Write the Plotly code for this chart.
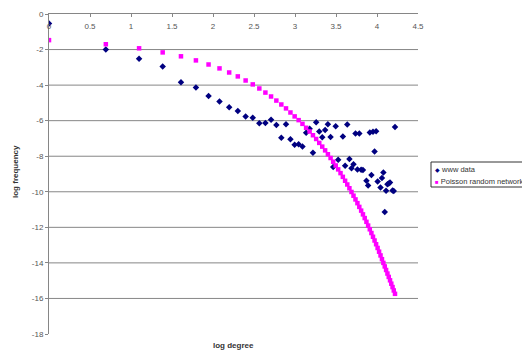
import numpy as np
import plotly.graph_objects as go

# Poisson random network: degree k = 1..68, x = ln(k)
poisson_degree = list(range(1, 69))
poisson_logfreq = [
    -1.47, -1.70, -1.93, -2.16, -2.38, -2.61, -2.84, -3.06, -3.29, -3.51,
    -3.74, -3.96, -4.19, -4.42, -4.64, -4.87, -5.09, -5.31, -5.54, -5.76,
    -5.97, -6.18, -6.40, -6.61, -6.82, -7.03, -7.25, -7.46, -7.67, -7.89,
    -8.10, -8.31, -8.52, -8.74, -8.95, -9.16, -9.38, -9.59, -9.80, -10.01,
    -10.22, -10.43, -10.64, -10.85, -11.06, -11.27, -11.48, -11.69, -11.90, -12.11,
    -12.32, -12.53, -12.74, -12.95, -13.16, -13.37, -13.58, -13.79, -14.00, -14.20,
    -14.40, -14.60, -14.79, -14.98, -15.17, -15.36, -15.55, -15.74,
]

# www data
www_degree = [1, 2, 3, 4, 5, 6, 7, 8, 9, 10, 11, 12, 13, 14, 15, 16, 17, 18, 19, 20,
              21, 22, 23, 24, 25, 26, 27, 28, 29, 30, 31, 32, 33, 34, 36, 37, 38, 39, 40,
              41, 42, 43, 44, 45, 46, 48, 49, 50, 51, 52, 53, 54, 55, 57, 58, 59, 60,
              61, 62, 63, 64, 66, 67, 68]
www_logfreq = [-0.53, -1.99, -2.52, -2.95, -3.84, -4.14, -4.61, -4.92, -5.25, -5.46,
               -5.76, -5.84, -6.14, -6.13, -5.95, -6.25, -6.96, -6.20, -7.04, -7.35,
               -7.32, -7.46, -6.68, -6.46, -7.80, -6.09, -6.61, -6.93, -6.52, -6.20,
               -6.92, -8.60, -6.32, -8.20, -6.89, -8.53, -6.21, -8.15, -8.67,
               -8.45, -6.72, -8.75, -6.72, -8.76, -8.78, -9.38, -9.64, -6.67, -9.06,
               -6.62, -7.74, -6.59, -9.42, -9.76, -9.22, -8.91, -11.14,
               -9.94, -9.57, -9.53, -9.48, -9.93, -9.96, -6.35]

x_ticks = [0, 0.5, 1, 1.5, 2, 2.5, 3, 3.5, 4, 4.5]
y_ticks = [0, -2, -4, -6, -8, -10, -12, -14, -16, -18]
grid_levels = [-2, -4, -6, -8, -10, -12, -14, -16]

FONT = "Liberation Sans, Arial, sans-serif"
AXIS_GRAY = "#868686"
TEXT = "#333333"
WWW_COLOR = "#000080"
POISSON_COLOR = "#FF00FF"

# plot area in pixels: left 49, right 418, top 14, bottom 334
L, R, T, B = 49, 418, 14, 334
PW, PH = R - L, B - T


def px(xp):
    return (xp - L) / PW


def py(yp):
    return (B - yp) / PH


fig = go.Figure()
fig.add_trace(go.Scatter(
    x=np.log(www_degree), y=www_logfreq, mode="markers", name="www data",
    marker=dict(symbol="diamond", size=5, color=WWW_COLOR),
))
fig.add_trace(go.Scatter(
    x=np.log(poisson_degree), y=poisson_logfreq, mode="markers",
    name="Poisson random network",
    marker=dict(symbol="square", size=4.5, color=POISSON_COLOR),
))

for g in grid_levels:
    fig.add_shape(type="line", xref="paper", yref="y", x0=0, x1=1, y0=g, y1=g,
                  line=dict(color=AXIS_GRAY, width=1), layer="below")

# legend box
fig.add_shape(type="rect", xref="paper", yref="paper",
              x0=px(431), x1=px(540), y0=py(187), y1=py(162),
              line=dict(color="#333333", width=1), fillcolor="white", layer="above")

annotations = [
    dict(text="<b>log degree</b>", xref="paper", yref="paper", x=px(233),
         y=py(345), xanchor="center", yanchor="middle", showarrow=False,
         font=dict(size=8, family=FONT, color=TEXT)),
    dict(text="<b>log frequency</b>", xref="paper", yref="paper", x=px(15),
         y=py(172), xanchor="center", yanchor="middle", textangle=-90,
         showarrow=False, font=dict(size=8, family=FONT, color=TEXT)),
    dict(text=f'<span style="color:{WWW_COLOR};font-size:6px">◆</span> www data',
         xref="paper", yref="paper", x=px(433), y=py(169), xanchor="left",
         yanchor="middle", showarrow=False, font=dict(size=7.5, family=FONT, color=TEXT)),
    dict(text=f'<span style="color:{POISSON_COLOR};font-size:6px">■</span> Poisson random network',
         xref="paper", yref="paper", x=px(433), y=py(181), xanchor="left",
         yanchor="middle", showarrow=False, font=dict(size=7.5, family=FONT, color=TEXT)),
]

fig.update_layout(
    width=522, height=354,
    margin=dict(l=L, r=522 - R, t=T, b=354 - B, autoexpand=False),
    paper_bgcolor="white", plot_bgcolor="white",
    font=dict(family=FONT, size=8, color=TEXT),
    showlegend=False,
    xaxis=dict(range=[0, 4.5], tickvals=x_ticks, ticktext=[str(v) for v in x_ticks],
               side="top", ticklabelposition="inside", ticklabeloverflow="allow",
               ticklabelstandoff=5,
               ticks="inside", ticklen=3,
               tickcolor=AXIS_GRAY, showline=True, linecolor=AXIS_GRAY, linewidth=1,
               showgrid=False, zeroline=False, tickfont=dict(size=8, color="#555555"),
               automargin=False),
    yaxis=dict(range=[-18, 0], tickvals=y_ticks, ticktext=[str(v) for v in y_ticks],
               ticks="outside", ticklen=3, tickcolor=AXIS_GRAY, showline=True,
               linecolor=AXIS_GRAY, linewidth=1, showgrid=False, zeroline=False,
               tickfont=dict(size=8, color="#555555"), automargin=False),
    annotations=annotations,
)

fig.write_html("out.html")
